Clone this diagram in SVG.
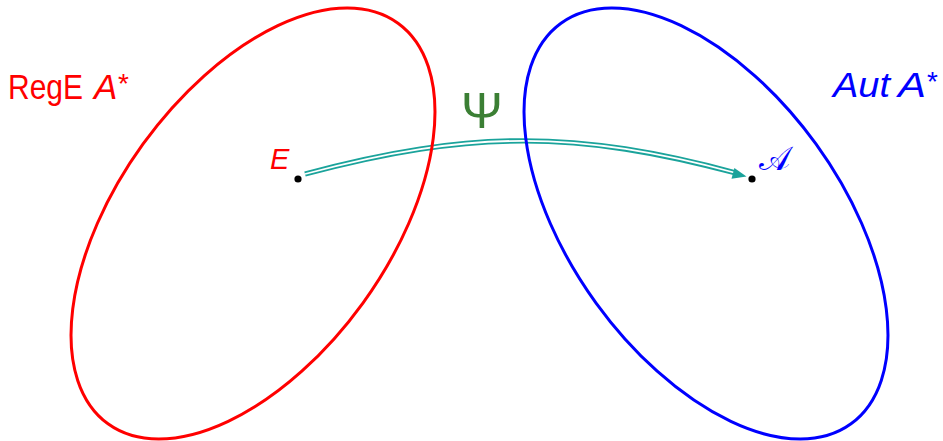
<svg xmlns="http://www.w3.org/2000/svg" width="943" height="441" viewBox="0 0 943 441">
<style>
.lbl{font-family:"Liberation Sans","DejaVu Sans",sans-serif;}
.it{font-style:italic;}
.ell{fill:none;stroke-width:3;}
.dot{fill:#000;}
</style>
<rect width="943" height="441" fill="#fff"/>
<g id="connectors">
  <path d="M305,174 C471,129.5 578,130.5 736,173" fill="none" stroke="#1aa39b" stroke-width="5.4"/>
  <path d="M305,174 C471,129.5 578,130.5 736,173" fill="none" stroke="#fff" stroke-width="1.8"/>
  <polygon points="746.5,176.5 731.5,178.8 734.4,168" fill="#1aa39b"/>
  <text class="lbl" x="482" y="128" font-size="50" text-anchor="middle" fill="#3b7f34">Ψ</text>
</g>
<g id="regE">
  <ellipse class="ell" cx="253" cy="223.5" rx="247.3" ry="135.7" transform="rotate(-54.1 253 223.5)" stroke="#ff0000"/>
  <text class="lbl" x="8" y="99" font-size="35" fill="#ff0000"><tspan textLength="75" lengthAdjust="spacingAndGlyphs">RegE</tspan></text>
  <text class="lbl it" x="94" y="99" font-size="35" fill="#ff0000">A</text>
  <text class="lbl" x="118" y="93" font-size="28" fill="#ff0000">*</text>
</g>
<g id="aut">
  <ellipse class="ell" cx="706" cy="223.5" rx="247.3" ry="135.7" transform="rotate(54.1 706 223.5)" stroke="#0000ff"/>
  <text class="lbl it" x="833" y="97" font-size="35" fill="#0000ff"><tspan textLength="57" lengthAdjust="spacingAndGlyphs">Aut</tspan></text>
  <text class="lbl it" x="898" y="97" font-size="35" fill="#0000ff"><tspan textLength="28" lengthAdjust="spacingAndGlyphs">A</tspan></text>
  <text class="lbl" x="927" y="91" font-size="28" fill="#0000ff">*</text>
</g>
<g id="nodeE">
  <circle class="dot" cx="298" cy="179" r="3.6"/>
  <text class="lbl it" x="270" y="169" font-size="29" fill="#ff0000">E</text>
</g>
<g id="nodeA">
  <circle class="dot" cx="752" cy="179" r="3.6"/>
  <text x="759" y="170" font-size="33" font-family="'DejaVu Sans','DejaVu Serif',serif" fill="#0000ff">𝒜</text>
</g>
</svg>
